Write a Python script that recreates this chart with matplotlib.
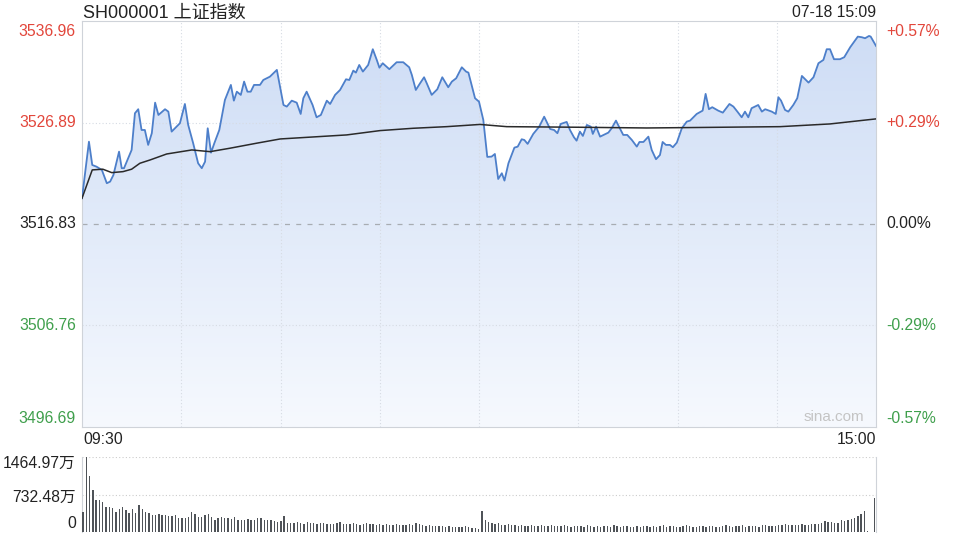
import numpy as np
import matplotlib
matplotlib.use("Agg")
import matplotlib.pyplot as plt
from matplotlib.colors import LinearSegmentedColormap
from matplotlib.patches import PathPatch

plt.rcParams['font.family'] = ['Liberation Sans', 'Noto Sans CJK SC', 'DejaVu Sans']

# ---- data (minutes after 09:30, lunch break removed: 120 = 11:30/13:00) ----
prev_close = 3516.83
y_ticks = [3536.96, 3526.89, 3516.83, 3506.76, 3496.69]
pct_ticks = ['+0.57%', '+0.29%', '0.00%', '-0.29%', '-0.57%']
vol_ticks = [1464.97, 732.48, 0]
vol_labels = ['1464.97万', '732.48万', '0']

t_price = [0, 2.1, 3.1, 4.4, 6.0, 7.5, 8.5, 9.5, 11.2, 12.0, 12.7, 15.0, 16.0, 17.0, 18.0,
           19.0, 20.0, 21.1, 22.1, 23.1, 25.1, 26.1, 27.1, 29.6, 31.1, 32.1, 33.6, 35.1,
           36.2, 37.2, 38.0, 39.0, 40.0, 41.5, 43.2, 45.0, 45.9, 46.8, 48.0, 49.0, 50.0,
           51.0, 52.0, 53.8, 54.8, 56.8, 58.9, 60.9, 61.9, 63.4, 64.9, 66.1, 66.9, 67.9,
           69.7, 70.9, 72.2, 74.0, 75.0, 76.5, 78.0, 79.8, 80.8, 82.0, 82.8, 83.8, 84.9,
           86.5, 87.9, 89.1, 89.9, 90.9, 92.9, 95.1, 97.1, 98.9, 99.7, 100.9, 102.2, 103.4,
           104.2, 105.7, 107.4, 108.9, 110.7, 111.8, 113.1, 114.8, 116.1, 116.8, 118.8, 120.0,
           121.3, 122.5, 123.8, 124.8, 125.8, 126.9, 127.7, 128.9, 130.7, 131.7, 132.9, 133.7,
           134.7, 136.4, 138.2, 139.7, 141.5, 142.7, 143.7, 144.7, 146.5, 147.5, 148.7, 149.5,
           150.5, 151.4, 152.6, 153.8, 154.4, 155.4, 156.6, 159.1, 160.1, 161.4, 162.4, 163.6,
           164.8, 166.2, 167.7, 168.5, 169.7, 171.2, 172.2, 173.5, 174.7, 175.5, 176.5, 177.7,
           178.6, 179.8, 181.3, 182.8, 183.8, 184.8, 185.8, 187.6, 188.5, 189.5, 190.5, 192.3,
           193.7, 195.7, 196.9, 198.1, 199.4, 200.4, 201.4, 202.4, 204.4, 205.5, 206.5, 208.5,
           209.7, 210.5, 211.3, 212.5, 213.5, 215.0, 216.2, 217.6, 219.6, 221.1, 222.6, 224.1,
           225.1, 226.1, 227.3, 229.1, 230.4, 232.2, 234.5, 235.7, 236.7, 237.9, 238.4, 240.0]
price = [3519.38, 3524.99, 3522.68, 3522.51, 3522.19, 3520.87, 3521.03, 3521.69, 3524.00,
         3522.36, 3522.36, 3524.17, 3527.81, 3528.21, 3526.15, 3526.15, 3524.67, 3525.83,
         3528.86, 3527.64, 3528.21, 3527.97, 3525.99, 3526.82, 3528.73, 3526.65, 3524.84,
         3522.85, 3522.36, 3523.01, 3526.32, 3523.90, 3524.84, 3526.15, 3529.13, 3530.62,
         3529.06, 3529.95, 3529.63, 3530.95, 3529.95, 3529.95, 3530.62, 3530.62, 3531.11,
         3531.44, 3532.11, 3528.63, 3528.47, 3529.06, 3528.86, 3527.74, 3529.30, 3529.95,
         3528.63, 3527.41, 3527.64, 3529.06, 3528.73, 3529.63, 3530.12, 3531.18, 3531.11,
         3532.04, 3531.84, 3532.60, 3531.94, 3532.60, 3534.16, 3533.10, 3532.33, 3532.77,
         3532.18, 3532.87, 3532.87, 3532.37, 3531.61, 3530.12, 3530.79, 3531.38, 3530.79,
         3529.63, 3530.19, 3531.38, 3530.39, 3530.95, 3531.28, 3532.37, 3531.94, 3531.84,
         3529.30, 3528.96, 3527.15, 3523.48, 3523.51, 3523.77, 3521.29, 3521.86, 3521.13,
         3522.85, 3524.40, 3524.50, 3525.23, 3525.16, 3524.77, 3525.76, 3526.48, 3527.47,
         3526.25, 3526.15, 3525.83, 3526.75, 3526.95, 3526.15, 3525.43, 3525.09, 3525.99,
         3525.56, 3526.65, 3526.48, 3525.76, 3526.48, 3525.49, 3525.89, 3526.32, 3527.08,
         3526.42, 3525.66, 3525.66, 3525.16, 3524.50, 3524.96, 3524.96, 3525.49, 3524.17,
         3523.25, 3523.67, 3524.96, 3524.67, 3524.67, 3524.44, 3524.90, 3526.32, 3526.98,
         3527.08, 3527.41, 3527.74, 3528.07, 3529.73, 3528.21, 3528.41, 3528.07, 3527.87,
         3528.73, 3528.47, 3527.97, 3527.41, 3527.97, 3527.41, 3528.31, 3528.63, 3527.97,
         3528.21, 3527.97, 3527.74, 3529.40, 3529.06, 3528.14, 3527.97, 3528.63, 3529.30,
         3531.51, 3530.85, 3531.38, 3532.77, 3533.10, 3534.16, 3534.16, 3533.17, 3533.17,
         3533.37, 3534.36, 3535.41, 3535.35, 3535.25, 3535.48, 3535.41, 3534.49]

t_avg = [0, 3.1, 6.3, 9.0, 12.4, 15.0, 17.5, 20.6, 25.6, 33.2, 38.7, 44.7, 52.8, 59.9,
         80.0, 90.1, 100.1, 110.2, 120.3, 128.4, 150.5, 170.7, 186.8, 211.0, 226.1, 240.0]
avg = [3519.38, 3522.19, 3522.26, 3521.92, 3522.02, 3522.26, 3522.85, 3523.18, 3523.77,
       3524.17, 3524.00, 3524.34, 3524.84, 3525.26, 3525.66, 3526.09, 3526.32, 3526.48,
       3526.70, 3526.48, 3526.42, 3526.35, 3526.40, 3526.48, 3526.75, 3527.25]

# volume per minute, in 万
volume = [400, 1465, 1100, 830, 630, 630, 585, 490, 490, 470,
          400, 455, 490, 420, 370, 455, 370, 520, 455, 400,
          380, 340, 340, 345, 330, 335, 320, 320, 325, 270,
          270, 275, 300, 395, 360, 300, 295, 330, 345, 290,
          240, 270, 300, 280, 270, 250, 285, 230, 230, 235,
          250, 225, 230, 270, 265, 225, 230, 225, 215, 200,
          210, 310, 180, 175, 180, 200, 170, 165, 190, 185,
          175, 160, 180, 170, 165, 150, 160, 175, 190, 160,
          150, 165, 170, 150, 140, 160, 175, 155, 150, 145,
          150, 140, 155, 130, 145, 150, 130, 140, 135, 150,
          140, 185, 150, 130, 120, 135, 120, 110, 125, 110,
          100, 120, 100, 95, 105, 90, 120, 95, 85, 80, 60,
          410, 230, 200, 180, 150, 170, 140, 135, 150, 130,
          140, 120, 135, 120, 110, 130, 125, 115, 140, 120,
          110, 130, 120, 110, 125, 130, 115, 105, 120, 110,
          120, 105, 130, 115, 100, 110, 95, 120, 110, 105,
          130, 115, 100, 120, 110, 95, 105, 120, 100, 115,
          125, 105, 110, 95, 120, 130, 100, 110, 115, 105,
          100, 110, 130, 120, 95, 105, 125, 110, 100, 115,
          120, 105, 95, 110, 130, 115, 100, 110, 120, 135,
          105, 115, 110, 125, 100, 140, 130, 120, 110, 125,
          140, 135, 150, 145, 135, 145, 130, 150, 145, 140,
          160, 165, 150, 170, 215, 200, 190, 185, 180, 230,
          220, 240, 250, 280, 310, 360, 410, 20, 0, 663]

RED = '#e2463b'
GREEN = '#3f9f4c'
DARK = '#222222'
GRID = '#d6dbe3'

fig = plt.figure(figsize=(9.6, 5.4), dpi=100)
W, H = 960.0, 540.0

## price panel
ax = fig.add_axes([82 / W, 1 - 427 / H, 794 / W, 406 / H])
ymin, ymax = y_ticks[-1], y_ticks[0]
ax.set_xlim(0, 240)
ax.set_ylim(ymin, ymax)

# gradient fill under the price line
poly = ax.fill_between(t_price, price, ymin, color='none', lw=0)
clip = PathPatch(poly.get_paths()[0], transform=ax.transData, fc='none', ec='none')
ax.add_patch(clip)
cmap = LinearSegmentedColormap.from_list('fill', ['#f6f9fe', '#cddcf5'])
grad = np.linspace(0, 1, 256).reshape(-1, 1)
im = ax.imshow(grad, extent=[0, 240, ymin, ymax], origin='lower', aspect='auto',
               cmap=cmap, zorder=1)
im.set_clip_path(clip)

ax.plot(t_price, price, color='#4d7fca', lw=1.3, zorder=3)
ax.plot(t_avg, avg, color='#2a2a2a', lw=1.1, zorder=4)

# grid
for m in range(30, 240, 30):
    ax.axvline(m, color=GRID, lw=0.8, ls=(0, (1, 2)), zorder=2)
for v in (y_ticks[1], y_ticks[3]):
    ax.axhline(v, color=GRID, lw=0.8, ls=(0, (1, 2)), zorder=2)
ax.axhline(prev_close, color='#a8acb2', lw=0.9, ls=(0, (4, 5)), zorder=2)

ax.set_xticks([])
ax.set_yticks([])
for s in ax.spines.values():
    s.set_color('#cfd3d9')
    s.set_linewidth(0.8)

# axis labels, left prices / right percents
lab_colors = [RED, RED, DARK, GREEN, GREEN]
for i, (v, p, c) in enumerate(zip(y_ticks, pct_ticks, lab_colors)):
    va = 'center'
    off = 0
    if i == 0:
        va, off = 'top', -0.3
    elif i == len(y_ticks) - 1:
        va, off = 'bottom', 0.1
    tr = ax.get_yaxis_transform()
    ax.text(-0.0076, v + off, '%.2f' % v, transform=tr, ha='right', va=va,
            color=c, fontsize=11.3, clip_on=False)
    ax.text(1.0126, v + off, p, transform=tr, ha='left', va=va,
            color=c, fontsize=11.3, clip_on=False)

ax.text(0.985, 0.008, 'sina.com', transform=ax.transAxes, ha='right', va='bottom',
        color='#c4c4c4', fontsize=11, zorder=5)

fig.text(83 / W, 1 - 17.7 / H, 'SH000001 上证指数', ha='left', va='baseline',
         color=DARK, fontsize=13)
fig.text(876 / W, 1 - 17.3 / H, '07-18 15:09', ha='right', va='baseline',
         color=DARK, fontsize=11.3)
fig.text(83 / W, 1 - 444.5 / H, '09:30', ha='left', va='baseline', color=DARK, fontsize=11.3)
fig.text(876 / W, 1 - 444.5 / H, '15:00', ha='right', va='baseline', color=DARK, fontsize=11.3)

## volume panel
axv = fig.add_axes([82 / W, 1 - 532 / H, 794 / W, 75 / H])
axv.set_xlim(-0.3, 240.5)
axv.set_ylim(0, vol_ticks[0])
axv.bar(np.arange(len(volume)), volume, width=0.42, color='#4f5358', zorder=3)
for v in vol_ticks[:2]:
    axv.axhline(v, color='#cccccc', lw=0.8, ls=(0, (1, 2)), zorder=1)
axv.set_xticks([])
axv.set_yticks([])
for k in ('top', 'bottom'):
    axv.spines[k].set_visible(False)
for k in ('left', 'right'):
    axv.spines[k].set_color('#cfd3d9')
    axv.spines[k].set_linewidth(0.8)
vol_y = [463, 497, 523]
for lab, y in zip(vol_labels, vol_y):
    fig.text(76 / W, 1 - y / H, lab, ha='right', va='center', color=DARK, fontsize=11.3)

fig.savefig('out.png', dpi=100, facecolor='white')
